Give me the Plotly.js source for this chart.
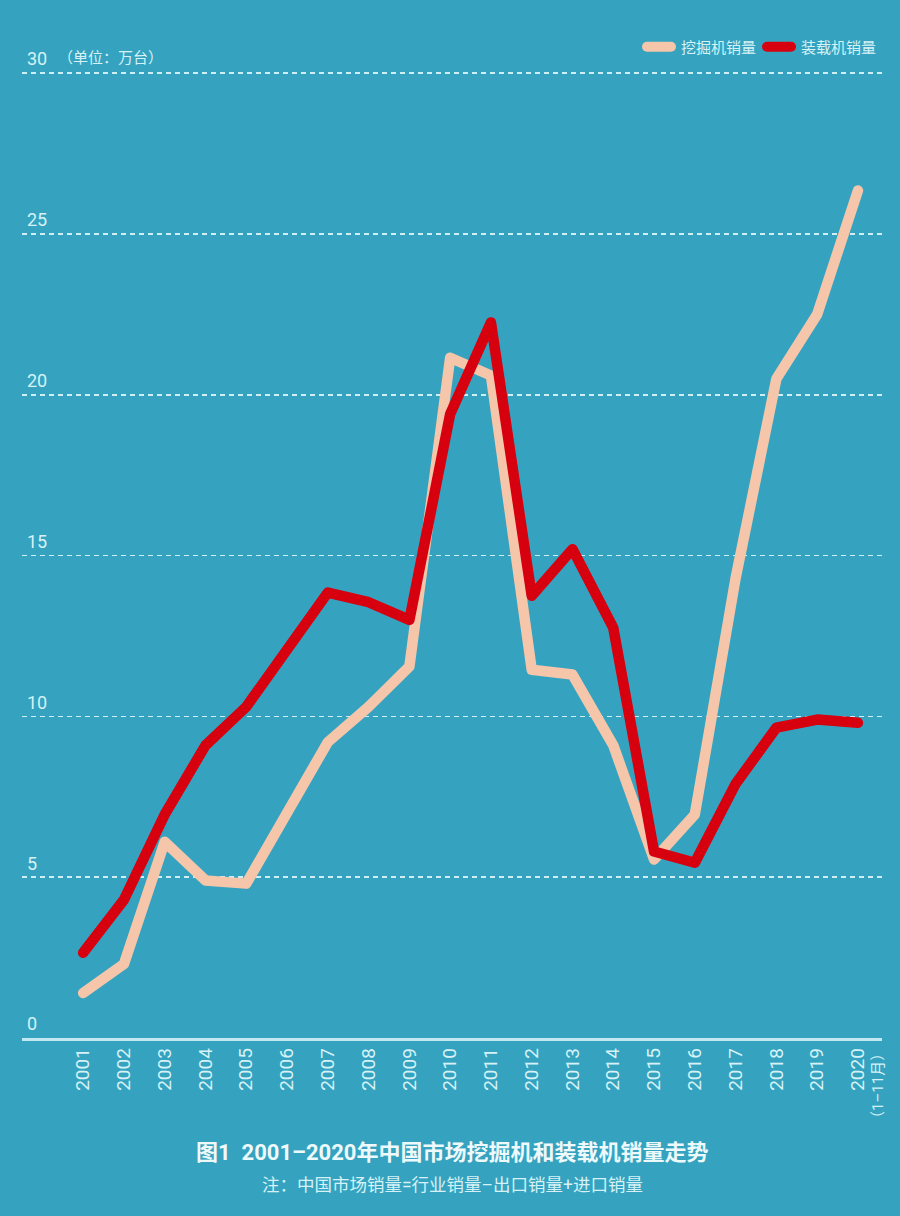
<!DOCTYPE html>
<html>
<head>
<meta charset="utf-8">
<script src="https://cdn.plot.ly/plotly-3.0.1.min.js"></script>
<style>
html,body{margin:0;padding:0;background:#35a3bf;}
#chart{width:900px;height:1216px;}
#chart path.js-line{stroke-linejoin:round;stroke-linecap:round;}
</style>
</head>
<body>
<div id="chart"></div>
<script>
const years = ['2001','2002','2003','2004','2005','2006','2007','2008','2009','2010','2011','2012','2013','2014','2015','2016','2017','2018','2019','2020'];
const excavatorSales = [1.4, 2.3, 6.1, 4.9, 4.8, 7.0, 9.2, 10.3, 11.55, 21.15, 20.6, 11.45, 11.3, 9.1, 5.55, 6.95, 14.3, 20.5, 22.5, 26.35];
const loaderSales = [2.65, 4.3, 6.95, 9.1, 10.3, 12.1, 13.85, 13.55, 13.0, 19.4, 22.25, 13.75, 15.2, 12.75, 5.8, 5.45, 7.9, 9.65, 9.9, 9.8];
const seriesNames = ['挖掘机销量', '装载机销量'];
const yTicks = [0, 5, 10, 15, 20, 25, 30];
const titleText = '<b>图1  2001–2020年中国市场挖掘机和装载机销量走势</b>';
const noteText = '注：中国市场销量=行业销量–出口销量+进口销量';
const unitText = '（单位：万台）';
const lastNote = '（1–11月）';

const bg = '#35a3bf';
const txt = '#d6f2f7';
const font = 'Roboto, "Noto Sans CJK SC", sans-serif';

const traces = [
  {x: years, y: excavatorSales, name: seriesNames[0], type: 'scatter', mode: 'lines',
   line: {color: '#f5c6aa', width: 10.5}, hoverinfo: 'skip'},
  {x: years, y: loaderSales, name: seriesNames[1], type: 'scatter', mode: 'lines',
   line: {color: '#d7000f', width: 10.5}, hoverinfo: 'skip'}
];

const layout = {
  width: 900, height: 1216,
  paper_bgcolor: bg, plot_bgcolor: bg,
  margin: {l: 22, r: 18, t: 41, b: 178},
  font: {family: font, color: txt},
  showlegend: true,
  legend: {orientation: 'h', x: 1, xanchor: 'right', y: 0.994, yanchor: 'middle',
           font: {size: 15, color: txt}, bgcolor: 'rgba(0,0,0,0)', itemwidth: 30, tracegroupgap: 0},
  xaxis: {type: 'category', range: [-1.5, 19.59], tickangle: -90,
          showgrid: false, zeroline: false, showline: true, linecolor: '#c2e9f1', linewidth: 2.5,
          ticks: '', tickfont: {size: 19, color: txt, family: font}, fixedrange: true},
  yaxis: {range: [0, 31], tickvals: yTicks, ticktext: yTicks.map(String),
          showgrid: true, gridcolor: '#cdeff6', gridwidth: 1.5, griddash: '5px,4px',
          zeroline: false, showline: false, ticks: '',
          ticklabelposition: 'inside', ticklabelshift: -14, ticklabelstandoff: 2,
          tickfont: {size: 18, color: txt, family: font}, fixedrange: true},
  annotations: [
    {text: unitText, xref: 'paper', yref: 'y', x: 0.04, y: 30, xanchor: 'left', yanchor: 'bottom',
     yshift: 4, showarrow: false, font: {size: 15, color: txt, family: font}},
    {text: lastNote, xref: 'x', yref: 'y', x: 19, y: 0, xanchor: 'center', yanchor: 'top',
     xshift: 20, yshift: -6, textangle: -90, showarrow: false, font: {size: 15, color: txt, family: font}},
    {text: titleText, xref: 'paper', yref: 'paper', x: 0.5, y: 0, xanchor: 'center', yanchor: 'middle',
     yshift: -114, showarrow: false, font: {size: 22, color: '#eef9fb', family: font}},
    {text: noteText, xref: 'paper', yref: 'paper', x: 0.5, y: 0, xanchor: 'center', yanchor: 'middle',
     yshift: -147, showarrow: false, font: {size: 17.5, color: txt, family: font}}
  ]
};

Plotly.newPlot('chart', traces, layout, {displayModeBar: false, staticPlot: true}).then(function(gd){
  // shorten legend swatches so their rounded ends leave a gap before the text
  gd.querySelectorAll('.legend path.js-line').forEach(function(p){ p.setAttribute('d', 'M6,0h24'); });
});
</script>
</body>
</html>
